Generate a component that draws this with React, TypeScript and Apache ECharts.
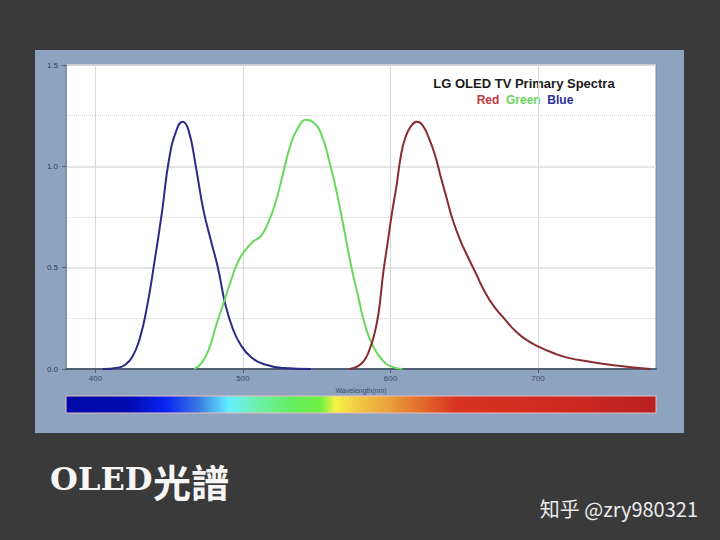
import React, { useEffect, useRef } from "react";
import * as echarts from "echarts";

const xTicks = [400, 500, 600, 700];

const blueWl = [405, 415, 420, 425, 430, 435, 440, 445, 450, 455, 459, 463, 468, 473, 478, 483, 488, 493, 498, 505, 515, 528, 546];
const blueVal = [0, 0.006, 0.02, 0.06, 0.15, 0.31, 0.53, 0.77, 1.04, 1.18, 1.22, 1.18, 1.0, 0.79, 0.64, 0.5, 0.32, 0.2, 0.125, 0.062, 0.022, 0.005, 0];

const greenWl = [467, 472, 477, 482, 487, 492, 497, 502, 507, 512, 517, 522, 527, 532, 537, 543, 548, 553, 558, 563, 568, 573, 578, 583, 588, 594, 600, 608];
const greenVal = [0, 0.03, 0.1, 0.22, 0.33, 0.44, 0.535, 0.59, 0.63, 0.655, 0.72, 0.82, 0.96, 1.1, 1.185, 1.23, 1.215, 1.16, 1.04, 0.89, 0.71, 0.52, 0.36, 0.21, 0.115, 0.048, 0.014, 0];

const redWl = [572, 577, 582, 586, 589, 592, 595, 598, 601, 604, 607, 610, 614, 618, 622, 626, 630, 634, 638, 642, 647, 652, 658, 664, 670, 677, 685, 693, 701, 710, 720, 735, 750, 765, 776];
const redVal = [0, 0.01, 0.04, 0.1, 0.17, 0.28, 0.47, 0.62, 0.77, 0.9, 1.05, 1.14, 1.2, 1.22, 1.2, 1.14, 1.06, 0.95, 0.845, 0.74, 0.64, 0.56, 0.47, 0.38, 0.31, 0.25, 0.185, 0.14, 0.108, 0.08, 0.056, 0.036, 0.02, 0.007, 0];

const pairs = (xs: number[], ys: number[]) => xs.map((x, i) => [x, ys[i]]);

export default function App() {
  const ref = useRef<HTMLDivElement>(null);
  useEffect(() => {
    if (!ref.current) return;
    const chart = echarts.init(ref.current, null, { renderer: "svg" });
    chart.setOption({
      animation: false,
      backgroundColor: "#3a3a3a",
      grid: {
        left: 66,
        top: 65,
        width: 590,
        height: 304,
        show: true,
        backgroundColor: "#ffffff",
        borderColor: "#7b8aa0",
        borderWidth: 1,
      },
      xAxis: {
        type: "value",
        min: 380,
        max: 780,
        name: "Wavelength(nm)",
        nameLocation: "middle",
        nameGap: 14,
        nameTextStyle: { fontSize: 7, color: "#3d4d66", fontFamily: "Liberation Sans" },
        axisLine: { show: true, lineStyle: { color: "#4f5f78", width: 2 } },
        axisTick: { show: true, length: 4, customValues: xTicks, lineStyle: { color: "#4f5f78" } },
        axisLabel: { customValues: xTicks, fontSize: 8, color: "#3d4d66", margin: 5, fontFamily: "Liberation Sans" },
        splitLine: { show: true, lineStyle: { color: "#d8d8d8", width: 1 } },
      },
      yAxis: {
        type: "value",
        min: 0,
        max: 1.5,
        interval: 0.5,
        axisLine: { show: true, lineStyle: { color: "#8090a8", width: 2 } },
        axisTick: { show: true, length: 4, lineStyle: { color: "#4f5f78" } },
        axisLabel: {
          fontSize: 8,
          color: "#333a44",
          margin: 8,
          fontFamily: "Liberation Sans",
          formatter: (v: number) => v.toFixed(1),
        },
        splitLine: { show: true, lineStyle: { color: "#dcdcdc", width: 1.5 } },
        minorTick: { show: false, splitNumber: 2 },
        minorSplitLine: { show: true, lineStyle: { color: "#d4d4d4", type: "dotted", width: 1 } },
      },
      series: [
        {
          type: "line",
          data: pairs(blueWl, blueVal),
          smooth: 0.5,
          showSymbol: false,
          lineStyle: { color: "#2a2a88", width: 2 },
        },
        {
          type: "line",
          data: pairs(greenWl, greenVal),
          smooth: 0.5,
          showSymbol: false,
          lineStyle: { color: "#66d85a", width: 2 },
        },
        {
          type: "line",
          data: pairs(redWl, redVal),
          smooth: 0.5,
          showSymbol: false,
          lineStyle: { color: "#8a2b2f", width: 2 },
        },
      ],
      graphic: [
        {
          type: "rect",
          z: -10,
          shape: { x: 35, y: 50, width: 649, height: 383 },
          style: { fill: "#8da3bf" },
        },
        {
          type: "rect",
          shape: { x: 66, y: 396, width: 590, height: 17 },
          style: {
            stroke: "#eabcc4",
            lineWidth: 1,
            fill: new echarts.graphic.LinearGradient(0, 0, 1, 0, [
              { offset: 0, color: "#0008a6" },
              { offset: 0.11, color: "#000cb4" },
              { offset: 0.17, color: "#0a26f4" },
              { offset: 0.225, color: "#3a7ae0" },
              { offset: 0.276, color: "#62f0ff" },
              { offset: 0.316, color: "#70f0b8" },
              { offset: 0.38, color: "#62ee62" },
              { offset: 0.433, color: "#72f040" },
              { offset: 0.456, color: "#f4f444" },
              { offset: 0.5, color: "#f0c444" },
              { offset: 0.557, color: "#e89838" },
              { offset: 0.615, color: "#e06028" },
              { offset: 0.661, color: "#d83222" },
              { offset: 0.84, color: "#d02a20" },
              { offset: 1, color: "#b82020" },
            ]),
          },
        },
        {
          type: "text",
          x: 524,
          y: 83,
          style: {
            text: "LG OLED TV Primary Spectra",
            fill: "#1a1a1a",
            font: "bold 13px 'Liberation Sans', Arial, sans-serif",
            align: "center",
            verticalAlign: "middle",
          },
        },
        {
          type: "text",
          x: 525,
          y: 100,
          style: {
            text: "{r|Red}  {g|Green}  {b|Blue}",
            align: "center",
            verticalAlign: "middle",
            rich: {
              r: { fill: "#c0393b", font: "bold 12px 'Liberation Sans', Arial, sans-serif" },
              g: { fill: "#6ad35a", font: "bold 12px 'Liberation Sans', Arial, sans-serif" },
              b: { fill: "#2b2fa0", font: "bold 12px 'Liberation Sans', Arial, sans-serif" },
            },
          },
        },
        {
          type: "text",
          x: 50,
          y: 479,
          style: {
            text: "OLED",
            fill: "#f6f6f6",
            font: "bold 32px 'DejaVu Serif', serif",
            align: "left",
            verticalAlign: "middle",
          },
        },
        {
          type: "text",
          x: 153,
          y: 480,
          style: {
            text: "光譜",
            fill: "#f6f6f6",
            font: "bold 38px 'Noto Sans CJK TC', sans-serif",
            align: "left",
            verticalAlign: "middle",
          },
        },
        {
          type: "text",
          x: 698,
          y: 508,
          style: {
            text: "知乎 @zry980321",
            fill: "#ececec",
            font: "20px 'Noto Sans CJK SC', 'Noto Sans', sans-serif",
            align: "right",
            verticalAlign: "middle",
          },
        },
      ],
    });
    return () => chart.dispose();
  }, []);
  return (
    <div
      ref={ref}
      style={{ position: "fixed", left: 0, top: 0, width: 720, height: 540 }}
    />
  );
}
